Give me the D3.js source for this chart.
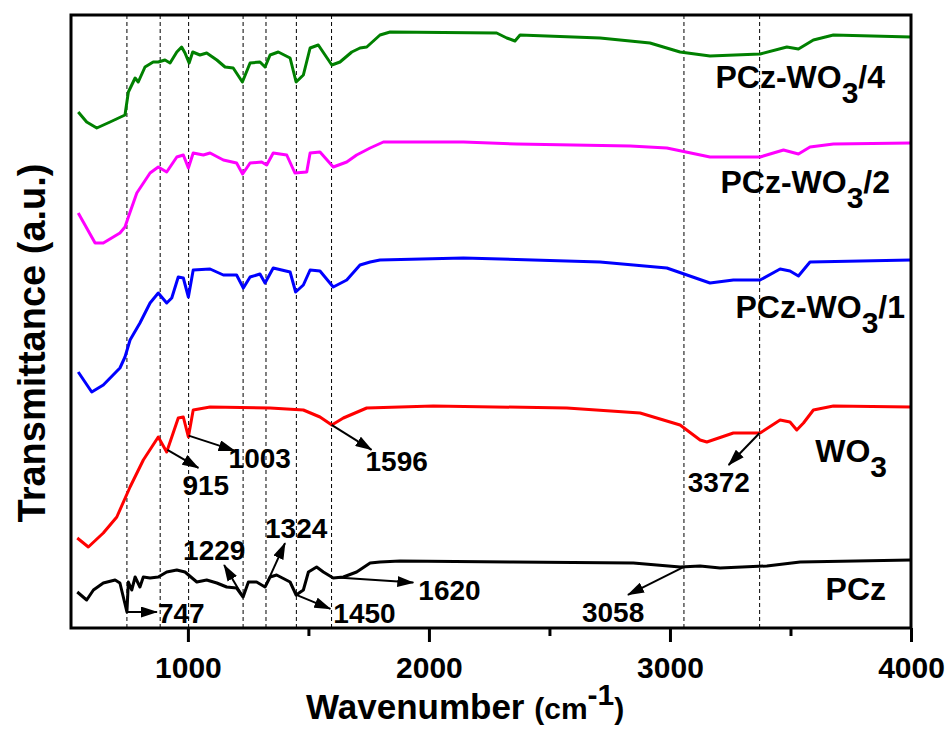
<!DOCTYPE html>
<html>
<head>
<meta charset="utf-8">
<script src="https://cdn.jsdelivr.net/npm/d3@7"></script>
<style>
  body { margin: 0; background: #fff; overflow: hidden; }
  svg { display: block; }
  text { font-family: "Liberation Sans", Arial, sans-serif; font-weight: bold; fill: #000; }
</style>
</head>
<body>
<div id="chart"></div>
<script>
// ---- data (wavenumber cm-1, transmittance a.u. incl. stacking offset) ----
const pcz = [[541,3.6],[580,2.8],[608,3.8],[649,4.5],[698,4.8],[718,4.5],[732,3.1],[739,2.4],[747,1.6],[753,4.6],[767,3.8],[781,5.1],[801,4.1],[815,5.1],[843,5.0],[877,5.1],[912,5.6],[954,5.8],[988,5.6],[1037,4.6],[1078,4.8],[1120,4.5],[1161,4.1],[1202,4.0],[1229,3.1],[1251,4.6],[1285,4.6],[1320,4.1],[1341,5.1],[1368,5.3],[1424,4.6],[1449,3.3],[1479,3.8],[1500,5.6],[1534,6.1],[1562,5.6],[1603,5.0],[1645,5.1],[1700,5.6],[1756,6.5],[1797,6.6],[1880,6.7],[2349,6.6],[2848,6.5],[3042,6.1],[3125,6.2],[3208,6.0],[3402,6.2],[3540,6.6],[4000,6.8]];
const wo3 = [[541,9.0],[587,8.1],[649,9.5],[705,11.1],[760,14.1],[815,16.8],[877,19.1],[912,17.6],[960,21.0],[981,21.1],[1002,19.1],[1022,21.8],[1092,22.1],[1341,22.0],[1479,21.8],[1548,21.1],[1597,20.3],[1645,21.0],[1742,22.0],[2018,22.2],[2572,22.0],[2876,21.5],[3042,20.3],[3125,18.8],[3153,18.6],[3263,19.5],[3374,19.5],[3457,20.8],[3498,20.6],[3526,19.8],[3554,20.5],[3595,21.8],[3678,22.2],[4000,22.1]];
const pczWo3_1 = [[545,25.6],[601,23.6],[649,24.3],[718,26.0],[739,27.1],[760,28.8],[801,30.5],[843,32.5],[877,33.5],[912,32.5],[933,33.0],[960,35.1],[981,35.0],[1002,33.1],[1022,35.8],[1092,35.9],[1147,35.3],[1202,35.3],[1230,34.0],[1258,35.1],[1299,35.4],[1320,34.5],[1354,36.0],[1424,35.6],[1447,33.6],[1479,34.3],[1507,35.8],[1548,35.7],[1603,34.1],[1659,34.8],[1714,36.3],[1756,36.6],[1797,36.8],[2143,37.0],[2710,36.6],[2987,36.0],[3166,34.5],[3263,34.8],[3374,34.8],[3457,35.9],[3498,35.7],[3533,35.2],[3581,36.6],[4000,36.8]];
const pczWo3_2 = [[545,41.5],[615,38.5],[649,38.5],[718,39.5],[739,40.1],[753,41.1],[788,43.5],[843,45.5],[877,46.1],[912,45.6],[954,47.1],[981,47.3],[1002,46.0],[1022,47.5],[1064,47.3],[1092,47.5],[1147,46.8],[1202,46.5],[1227,45.4],[1258,46.5],[1306,46.6],[1327,46.3],[1354,47.5],[1410,47.3],[1444,45.5],[1493,45.6],[1507,47.5],[1548,47.6],[1603,46.1],[1659,46.6],[1700,47.3],[1756,48.0],[1811,48.6],[2143,48.6],[2364,48.4],[2835,48.2],[2987,48.0],[3166,47.1],[3374,47.1],[3471,47.8],[3533,47.4],[3581,48.1],[3678,48.4],[4000,48.5]];
const pczWo3_4 = [[545,51.6],[580,50.6],[622,50.0],[677,50.6],[739,51.3],[753,53.6],[781,55.0],[794,54.6],[822,56.1],[856,56.6],[877,56.6],[905,56.8],[926,56.5],[954,57.6],[974,58.1],[988,57.5],[1005,56.5],[1020,57.6],[1050,57.3],[1078,57.5],[1120,56.8],[1154,56.1],[1188,56.0],[1226,54.6],[1258,56.5],[1299,56.6],[1320,56.1],[1341,57.3],[1375,57.6],[1424,57.0],[1449,54.6],[1479,55.3],[1507,58.0],[1541,58.3],[1597,56.3],[1631,56.6],[1680,57.6],[1714,58.0],[1742,58.1],[1797,59.3],[1839,59.6],[2281,59.5],[2323,59.0],[2357,58.7],[2378,59.3],[2710,59.0],[2917,58.5],[3042,57.6],[3166,57.2],[3374,57.4],[3485,58.1],[3533,57.9],[3595,58.8],[3678,59.3],[4000,59.1]];

const seriesNames = ["PCz", "WO3", "PCz-WO3/1", "PCz-WO3/2", "PCz-WO3/4"];
const seriesData = [pcz, wo3, pczWo3_1, pczWo3_2, pczWo3_4];
const seriesColors = ["#000000", "#ff0000", "#0000ff", "#ff00ff", "#008000"];

const xTicks = [1000, 2000, 3000, 4000];
const xMinorTicks = [1500, 2500, 3500];
const guideLines = [747, 885, 1003, 1229, 1324, 1450, 1596, 3058, 3372];

// peak annotations: wavenumber + which curve it points at
const peakValues = [747, 915, 1003, 1229, 1324, 1450, 1596, 1620, 3058, 3372];
const peakSeries = ["PCz", "WO3", "WO3", "PCz", "PCz", "PCz", "WO3", "PCz", "PCz", "WO3"];
// layout: arrow tip and label offsets (px) from the point on the curve
const peakTip = [[30,0],[31,18],[46,15],[-19,-32],[19,-42],[34,14],[40,25],[76,5],[-56,28],[-31,32]];
const peakText = [[31,11],[15,45],[40,32],[-60,-37],[-1,-47],[37,28],[34,46],[81,22],[-102,55],[-72,59]];

// series label layout: [right x, baseline y] in plot coords
const labelPos = [[815, 585], [816, 447], [834, 303], [819, 178], [814, 73]];

const outerWidth = 952, outerHeight = 729;
const margin = { top: 15, right: 41, bottom: 101, left: 71 };
const innerWidth = outerWidth - margin.left - margin.right;
const innerHeight = outerHeight - margin.top - margin.bottom;

const xScale = d3.scaleLinear().domain([515, 4000]).range([0, innerWidth]);
const yScale = d3.scaleLinear().domain([0, 61.3]).range([innerHeight, 0]);

const svg = d3.select("#chart").append("svg")
  .attr("width", outerWidth).attr("height", outerHeight);

const defs = svg.append("defs");
defs.append("clipPath").attr("id", "clip")
  .append("rect").attr("width", innerWidth).attr("height", innerHeight);
defs.append("marker")
  .attr("id", "arrow")
  .attr("markerUnits", "userSpaceOnUse")
  .attr("markerWidth", 17).attr("markerHeight", 11)
  .attr("refX", 16).attr("refY", 5.5)
  .attr("orient", "auto")
  .append("path").attr("d", "M0,0 L17,5.5 L0,11 Z").attr("fill", "#000");

const g = svg.append("g").attr("transform", `translate(${margin.left},${margin.top})`);

// dashed guide lines
g.append("g").selectAll("line").data(guideLines).join("line")
  .attr("x1", d => xScale(d)).attr("x2", d => xScale(d))
  .attr("y1", 0).attr("y2", innerHeight)
  .attr("stroke", "#000").attr("stroke-width", 1)
  .attr("stroke-dasharray", "4,3");

// spectra
const line = d3.line().x(d => xScale(d[0])).y(d => yScale(d[1]));
g.append("g").attr("clip-path", "url(#clip)")
  .selectAll("path").data(seriesData).join("path")
  .attr("d", line)
  .attr("fill", "none")
  .attr("stroke", (d, i) => seriesColors[i])
  .attr("stroke-width", 3)
  .attr("stroke-linejoin", "round");

// series labels (subscript 3)
seriesNames.forEach((name, i) => {
  const t = g.append("text")
    .attr("x", labelPos[i][0]).attr("y", labelPos[i][1])
    .attr("text-anchor", "end")
    .attr("font-size", 32);
  const k = name.indexOf("WO3");
  if (k < 0) { t.text(name); return; }
  t.append("tspan").text(name.slice(0, k + 2));
  t.append("tspan").attr("dy", 15).attr("font-size", 30).text("3");
  const rest = name.slice(k + 3);
  if (rest) t.append("tspan").attr("dy", -15).text(rest);
});

// peak annotations
function valueAt(series, w) {
  const i = d3.bisector(d => d[0]).left(series, w);
  if (i <= 0) return series[0][1];
  if (i >= series.length) return series[series.length - 1][1];
  const a = series[i - 1], b = series[i];
  return a[1] + (w - a[0]) / (b[0] - a[0]) * (b[1] - a[1]);
}
const annG = g.append("g");
peakValues.forEach((w, i) => {
  const s = seriesData[seriesNames.indexOf(peakSeries[i])];
  const x0 = xScale(w), y0 = yScale(valueAt(s, w));
  annG.append("line")
    .attr("x1", x0).attr("y1", y0)
    .attr("x2", x0 + peakTip[i][0]).attr("y2", y0 + peakTip[i][1])
    .attr("stroke", "#000").attr("stroke-width", 2)
    .attr("marker-end", "url(#arrow)");
  annG.append("text")
    .attr("x", x0 + peakText[i][0]).attr("y", y0 + peakText[i][1])
    .attr("font-size", 28)
    .text(w);
});

// axes
const xAxis = g.append("g").attr("transform", `translate(0,${innerHeight})`)
  .call(d3.axisBottom(xScale).tickValues(xTicks).tickFormat(d3.format("d"))
    .tickSize(14).tickPadding(15));
xAxis.select(".domain").remove();
xAxis.selectAll(".tick line").attr("stroke-width", 3);
xAxis.selectAll(".tick text").attr("font-size", 30)
  .attr("font-family", "Liberation Sans, Arial, sans-serif");

const xMinor = g.append("g").attr("transform", `translate(0,${innerHeight})`)
  .call(d3.axisBottom(xScale).tickValues(xMinorTicks).tickSize(8));
xMinor.select(".domain").remove();
xMinor.selectAll(".tick text").remove();
xMinor.selectAll(".tick line").attr("stroke-width", 3);

// frame
g.append("rect")
  .attr("width", innerWidth).attr("height", innerHeight)
  .attr("fill", "none").attr("stroke", "#000").attr("stroke-width", 3);

// axis titles
const xTitle = svg.append("text").attr("x", 306).attr("y", 719);
xTitle.append("tspan").attr("font-size", 35).text("Wavenumber ");
xTitle.append("tspan").attr("font-size", 30).text("(cm");
xTitle.append("tspan").attr("font-size", 30).attr("dy", -14).text("-1");
xTitle.append("tspan").attr("font-size", 30).attr("dy", 14).text(")");

svg.append("text")
  .attr("transform", "translate(45,343) rotate(-90)")
  .attr("text-anchor", "middle")
  .attr("font-size", 38)
  .text("Transmittance (a.u.)");
</script>
</body>
</html>
